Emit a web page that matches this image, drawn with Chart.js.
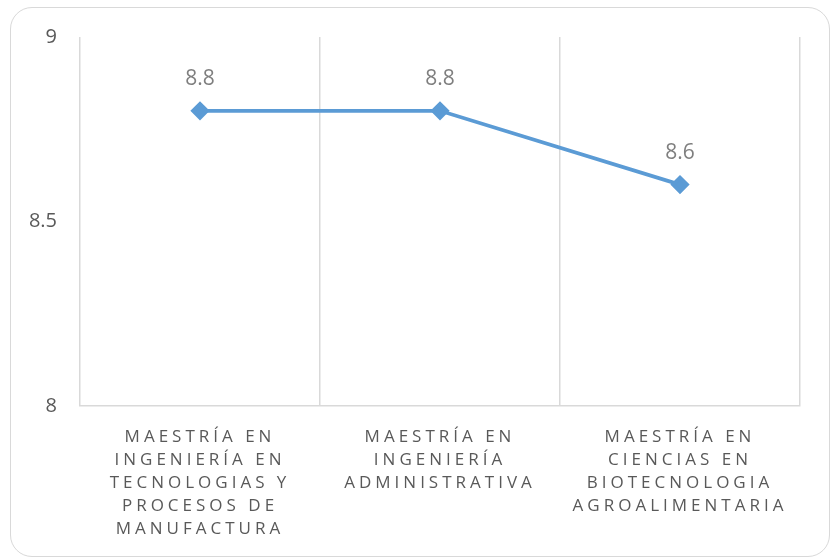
<!DOCTYPE html>
<html>
<head>
<meta charset="utf-8">
<script src="https://cdn.jsdelivr.net/npm/chart.js@4/dist/chart.umd.min.js"></script>
<style>
  html, body { margin: 0; padding: 0; background: #fff; }
  #wrap { position: relative; width: 832px; height: 560px; overflow: hidden; }
  #frame {
    position: absolute; left: 10px; top: 7px; width: 820px; height: 550px;
    border: 1.5px solid #d9d9d9; border-radius: 22px; box-sizing: border-box;
  }
  canvas { position: absolute; left: 0; top: 0; }
</style>
</head>
<body>
<div id="wrap">
  <div id="frame"></div>
  <canvas id="chart" width="832" height="560"></canvas>
</div>
<script>
// categorías y valores
const categories = [
  ["MAESTRÍA EN", "INGENIERÍA EN", "TECNOLOGIAS Y", "PROCESOS DE", "MANUFACTURA"],
  ["MAESTRÍA EN", "INGENIERÍA", "ADMINISTRATIVA"],
  ["MAESTRÍA EN", "CIENCIAS EN", "BIOTECNOLOGIA", "AGROALIMENTARIA"]
];
const values = [8.8, 8.8, 8.6];
const yTicks = [8, 8.5, 9];

const FONT = "'Open Sans', sans-serif";

// --- etiquetas de datos encima de cada punto ---
const dataLabels = {
  id: "dataLabels",
  afterDatasetsDraw(chart) {
    const ctx = chart.ctx;
    const meta = chart.getDatasetMeta(0);
    ctx.save();
    ctx.font = "21px " + FONT;
    ctx.fillStyle = "#7f7f7f";
    ctx.textAlign = "center";
    ctx.textBaseline = "middle";
    meta.data.forEach((pt, i) => {
      ctx.fillText(String(values[i]), pt.x, pt.y - 32);
    });
    ctx.restore();
  }
};

// --- espaciado de letras para el eje x ---
const spacedX = {
  id: "spacedX",
  afterUpdate(chart) {
    const sc = chart.scales.x;
    if (sc._spaced) return;
    const orig = sc.drawLabels;
    sc.drawLabels = function (area) {
      const ctx = this.ctx;
      ctx.save();
      ctx.letterSpacing = "4px";
      orig.call(this, area);
      ctx.restore();
    };
    sc._spaced = true;
  }
};

new Chart(document.getElementById("chart"), {
  type: "line",
  data: {
    labels: categories,
    datasets: [{
      data: values,
      borderColor: "#5b9bd5",
      backgroundColor: "#5b9bd5",
      borderWidth: 3.75,
      pointStyle: "rectRot",
      pointRadius: 7,
      pointHoverRadius: 7,
      fill: false,
      tension: 0
    }]
  },
  options: {
    responsive: false,
    animation: false,
    events: [],
    layout: { padding: { top: 37, right: 32, left: 0, bottom: 0 } },
    plugins: { legend: { display: false }, tooltip: { enabled: false } },
    scales: {
      x: {
        offset: true,
        grid: { offset: true, color: "#d9d9d9", lineWidth: 1.5, drawTicks: false },
        border: { color: "#d9d9d9", width: 1.5 },
        ticks: {
          color: "#595959",
          font: { family: FONT, size: 17, lineHeight: 1.35 },
          padding: 20,
          maxRotation: 0,
          autoSkip: false
        },
        afterFit(s) { s.height = 154; }
      },
      y: {
        min: 8,
        max: 9,
        afterBuildTicks(s) { s.ticks = yTicks.map(v => ({ value: v })); },
        grid: { display: false, drawTicks: false },
        border: { display: false },
        ticks: {
          color: "#595959",
          font: { family: FONT, size: 20 },
          padding: 23,
          callback: v => String(v)
        },
        afterFit(s) { s.width = 80; }
      }
    }
  },
  plugins: [dataLabels, spacedX]
});
</script>
</body>
</html>
